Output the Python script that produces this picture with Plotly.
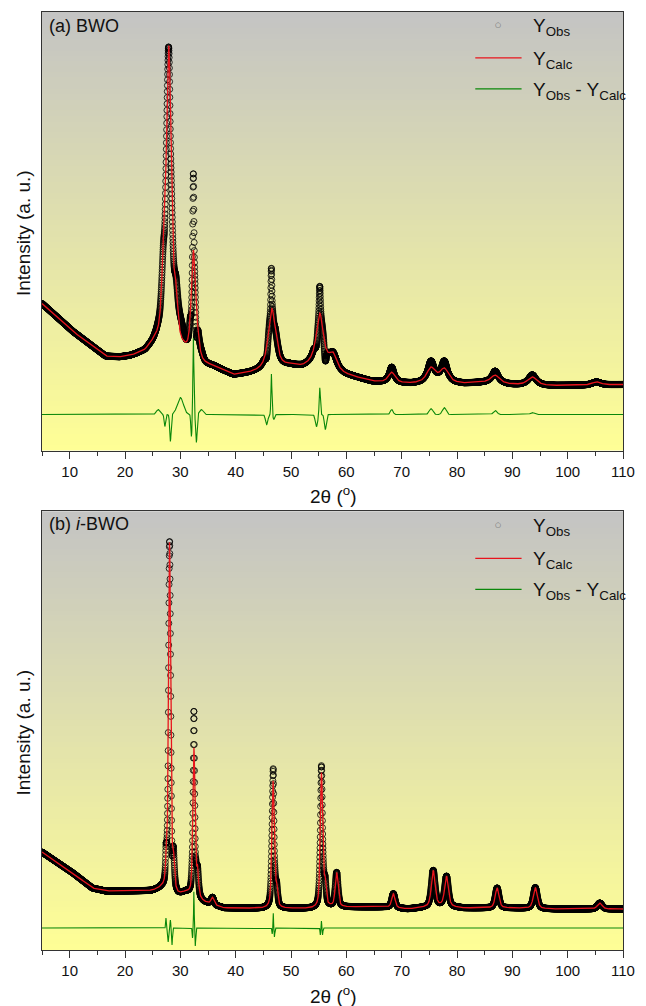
import numpy as np
import plotly.graph_objects as go

# ---------------- data ----------------
tt_start, tt_stop, tt_step = 5.0, 110.0, 0.02

# (a) BWO : background anchors of the refinement
bwo_bg_pos = [5, 10.6, 16.5, 19, 21, 23.6, 25.4, 30.45, 33.7, 36.1, 39.6, 42.6, 45, 49.7, 52.1,
              54, 56.8, 59.8, 64.6, 68.2, 71.7, 76.5, 81.3, 84.8, 90.2, 97.9, 110]
bwo_bg_int = [147, 119, 94, 93, 94, 98, 106, 97, 85, 83, 75, 77, 79, 84, 83,
              86, 85, 76, 69, 68, 67, 69, 67, 68, 66, 65, 66]
# (a) BWO : calculated reflections
bwo_pk_pos = [26.9, 27.9, 29.2, 32.35, 33.1, 46.5, 47.3, 55.2, 57.6, 68.2, 75.3, 77.7, 86.9, 93.6, 105.2]
bwo_pk_h = [46, 297, 38, 104, 15, 59, 8, 51, 12, 10, 14, 13, 8, 8, 3]
bwo_pk_fwhm = [0.8, 1.1, 0.8, 0.9, 0.9, 1.5, 1.0, 1.5, 1.4, 1.4, 1.8, 1.8, 1.9, 1.9, 1.8]
bwo_pk_eta = [0.6, 0.6, 0.6, 0.6, 0.6, 0.8, 0.6, 0.8, 0.6, 0.6, 0.6, 0.6, 0.6, 0.6, 0.6]
# (a) BWO : misfit features (Yobs - Ycalc)
bwo_res_pos = [26.0, 27.2, 28.2, 30.0, 32.0, 32.35, 32.9, 33.8, 45.6, 46.45, 46.9, 54.6, 55.2, 56.2,
               68.2, 75.3, 77.7, 86.9, 93.6]
bwo_res_amp = [5, -12, -27, 17, -22, 77, -28, 5, -10, 41, -5, -12, 27, -15, 5, 6, 7, 4, 2]
bwo_res_fwhm = [0.8, 0.3, 0.3, 1.3, 0.25, 0.2, 0.3, 0.8, 0.5, 0.2, 0.3, 0.5, 0.25, 0.4,
                0.6, 0.8, 0.8, 0.8, 0.8]
bwo_res_offset = 36

# (b) i-BWO : background anchors
ibwo_bg_pos = [5, 10.6, 14.1, 16.5, 24.8, 26.6, 29.6, 31, 34.3, 37.9, 45, 48.6, 54.5, 56.8, 60,
               67, 71.1, 77, 81.2, 85.3, 90.1, 97.7, 103.8, 110]
ibwo_bg_int = [98, 77, 62, 59, 59, 61, 54, 57, 47.5, 42, 41.5, 41.5, 41.5, 43, 43,
               43, 41, 44, 42, 42, 42, 41, 41, 41]
# (b) i-BWO : calculated reflections
ibwo_pk_pos = [27.45, 28.05, 28.75, 32.45, 33.1, 35.8, 46.75, 47.4, 55.5, 56.15, 58.25, 68.5,
               75.7, 78.1, 87.25, 94.15, 105.8]
ibwo_pk_h = [18, 349, 30, 148, 25, 7, 127, 18, 134, 22, 34, 14, 36, 30, 20, 21, 6]
ibwo_pk_fwhm = [0.35, 0.45, 0.4, 0.45, 0.45, 0.6, 0.5, 0.45, 0.5, 0.45, 0.6, 0.7, 0.8, 0.8,
                0.8, 0.85, 1.0]
ibwo_pk_eta = [0.5] * 17
# (b) i-BWO : misfit features
ibwo_res_pos = [27.4, 27.8, 28.2, 28.5, 32.2, 32.45, 32.7, 46.6, 46.8, 47.0, 55.3, 55.5, 55.7]
ibwo_res_amp = [10, -14, 8, -17, -10, 37, -18, -6, 15, -9, -7, 7, -7]
ibwo_res_fwhm = [0.15, 0.15, 0.15, 0.15, 0.15, 0.12, 0.15, 0.15, 0.1, 0.15, 0.15, 0.12, 0.15]
ibwo_res_offset = 22

y_max = 439

# legend labels
lab_obs = "Y<sub>Obs</sub>"
lab_calc = "Y<sub>Calc</sub>"
lab_diff = "Y<sub>Obs</sub> - Y<sub>Calc</sub>"

# ---------------- profile building ----------------
tt = np.arange(tt_start, tt_stop + tt_step / 2, tt_step)
K = 4 * np.log(2)


def pvoigt(x, pos, h, fwhm, eta):
    d = (x - pos) / fwhm
    return h * (eta / (1 + 4 * d * d) + (1 - eta) * np.exp(-K * d * d))


def profile(bg_pos, bg_int, pk_pos, pk_h, pk_fwhm, pk_eta, rs_pos, rs_amp, rs_fwhm, rs_off):
    calc = np.interp(tt, bg_pos, bg_int)
    for p, h, w, e in zip(pk_pos, pk_h, pk_fwhm, pk_eta):
        calc = calc + pvoigt(tt, p, h, w, e)
    res = np.zeros_like(tt)
    for p, a, w in zip(rs_pos, rs_amp, rs_fwhm):
        res = res + pvoigt(tt, p, a, w, 0.0)
    return calc + res, calc, res + rs_off


a_obs, a_calc, a_diff = profile(bwo_bg_pos, bwo_bg_int, bwo_pk_pos, bwo_pk_h, bwo_pk_fwhm, bwo_pk_eta,
                                bwo_res_pos, bwo_res_amp, bwo_res_fwhm, bwo_res_offset)
b_obs, b_calc, b_diff = profile(ibwo_bg_pos, ibwo_bg_int, ibwo_pk_pos, ibwo_pk_h, ibwo_pk_fwhm,
                                ibwo_pk_eta, ibwo_res_pos, ibwo_res_amp, ibwo_res_fwhm, ibwo_res_offset)

# ---------------- figure ----------------
FONT = "Liberation Sans, Arial, sans-serif"
RED = "#e8141c"
GREEN = "#0a870a"

fig = go.Figure()
panels = [("x", "y", a_obs, a_calc, a_diff), ("x2", "y2", b_obs, b_calc, b_diff)]
for xa, ya, obs, calc, diff in panels:
    fig.add_trace(go.Scatter(x=tt, y=obs, mode="markers", xaxis=xa, yaxis=ya, name=lab_obs,
                             marker=dict(symbol="circle-open", size=6, color="black",
                                         line=dict(width=0.8, color="black"))))
    fig.add_trace(go.Scatter(x=tt, y=calc, mode="lines", xaxis=xa, yaxis=ya, name=lab_calc,
                             line=dict(color=RED, width=1.3)))
    fig.add_trace(go.Scatter(x=tt, y=diff, mode="lines", xaxis=xa, yaxis=ya, name=lab_diff,
                             line=dict(color=GREEN, width=1.1)))

top_px, bottom_px = 11, 950
area_h = bottom_px - top_px


def py(p):
    return (bottom_px - p) / area_h


def pxp(p):
    return (p - 42) / 590


# gradient backgrounds (grey top -> yellow bottom)
shapes = []
n_bands = 80
top_rgb = np.array([196, 196, 196])
bot_rgb = np.array([255, 255, 150])
for xr, yr in [("x domain", "y domain"), ("x2 domain", "y2 domain")]:
    for i in range(n_bands):
        f = (i + 0.5) / n_bands
        c = bot_rgb + (top_rgb - bot_rgb) * f
        shapes.append(dict(type="rect", xref=xr, yref=yr, x0=0, x1=1,
                           y0=i / n_bands, y1=min(1.0, (i + 2.0) / n_bands), layer="below",
                           line=dict(width=0), fillcolor="rgb(%d,%d,%d)" % tuple(c.astype(int))))

# key (legend) inside each panel, top right
annotations = []
for row0 in (24, 525):
    r_obs, r_calc, r_diff = row0, row0 + 33, row0 + 64
    for r, col in [(r_calc, RED), (r_diff, GREEN)]:
        shapes.append(dict(type="line", xref="paper", yref="paper", x0=pxp(482), x1=pxp(529),
                           y0=py(r), y1=py(r), line=dict(color=col, width=1.3)))
    annotations.append(dict(text="○", xref="paper", yref="paper", x=pxp(505), y=py(r_obs),
                            xanchor="center", yanchor="middle", showarrow=False,
                            font=dict(family="DejaVu Sans", size=7, color="#666")))
    for r, t in [(r_obs, lab_obs), (r_calc, lab_calc), (r_diff, lab_diff)]:
        annotations.append(dict(text=t, xref="paper", yref="paper", x=pxp(539), y=py(r + 2),
                                xanchor="left", yanchor="middle", showarrow=False,
                                font=dict(family=FONT, size=19, color="#111")))

annotations += [
    dict(text="(a) BWO", xref="paper", yref="paper", x=0.008, y=py(25), xanchor="left",
         yanchor="middle", showarrow=False, font=dict(family=FONT, size=18, color="#111")),
    dict(text="(b) <i>i</i>-BWO", xref="paper", yref="paper", x=0.008, y=py(524),
         xanchor="left", yanchor="middle", showarrow=False,
         font=dict(family=FONT, size=18, color="#111")),
    dict(text="2θ (<sup>o</sup>)", xref="paper", yref="paper", x=0.5, y=py(495),
         xanchor="center", yanchor="middle", showarrow=False,
         font=dict(family=FONT, size=19, color="#111")),
    dict(text="2θ (<sup>o</sup>)", xref="paper", yref="paper", x=0.5, y=py(995),
         xanchor="center", yanchor="middle", showarrow=False,
         font=dict(family=FONT, size=19, color="#111")),
    dict(text="Intensity (a. u.)", xref="paper", yref="paper", x=pxp(23), y=py(232),
         xanchor="center", yanchor="middle", textangle=-90, showarrow=False,
         font=dict(family=FONT, size=19, color="#111")),
    dict(text="Intensity (a. u.)", xref="paper", yref="paper", x=pxp(23), y=py(732),
         xanchor="center", yanchor="middle", textangle=-90, showarrow=False,
         font=dict(family=FONT, size=19, color="#111")),
]

xaxis_style = dict(range=[tt_start, tt_stop], showline=True, mirror=True, linecolor="#333",
                   linewidth=1, ticks="outside", ticklen=7, tickwidth=1, tickcolor="#333",
                   tick0=0, dtick=10, showgrid=False, zeroline=False,
                   tickfont=dict(family=FONT, size=15, color="#111"),
                   minor=dict(ticks="outside", ticklen=4, tickwidth=1, tickcolor="#333",
                              tick0=5, dtick=10, showgrid=False))
yaxis_style = dict(range=[0, y_max], showline=True, mirror=True, linecolor="#333", linewidth=1,
                   ticks="", showticklabels=False, showgrid=False, zeroline=False)

fig.update_layout(
    width=646, height=1006,
    margin=dict(l=42, r=14, t=top_px, b=1006 - bottom_px),
    paper_bgcolor="white", plot_bgcolor="white",
    showlegend=False,
    xaxis=dict(domain=[0, 1], anchor="y", **xaxis_style),
    yaxis=dict(domain=[py(450), 1], anchor="x", **yaxis_style),
    xaxis2=dict(domain=[0, 1], anchor="y2", **xaxis_style),
    yaxis2=dict(domain=[0, py(511)], anchor="x2", **yaxis_style),
    shapes=shapes,
    annotations=annotations,
)

fig.write_html("out.html")
